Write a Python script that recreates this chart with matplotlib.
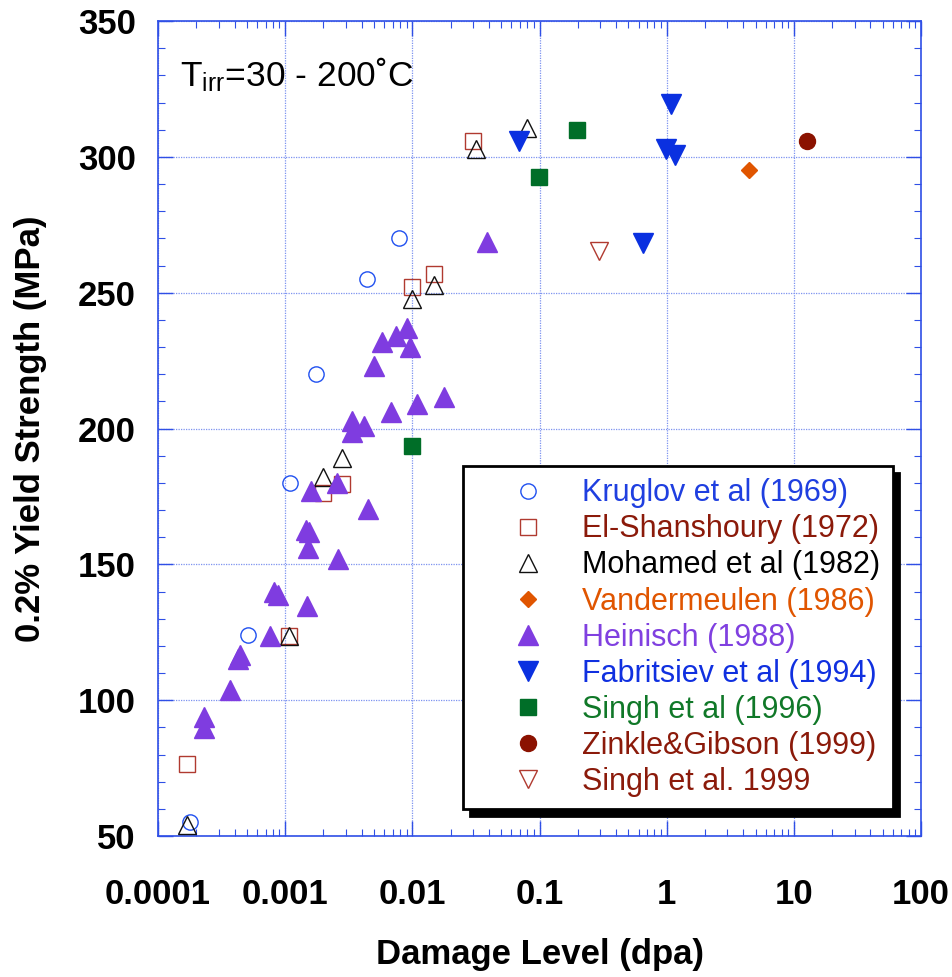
import matplotlib
matplotlib.use('Agg')
import matplotlib.pyplot as plt
from matplotlib.ticker import LogLocator, MultipleLocator, FixedLocator

plt.rcParams['font.family'] = ['Liberation Sans', 'DejaVu Sans']
plt.rcParams['mathtext.fontset'] = 'custom'
plt.rcParams['mathtext.rm'] = 'Liberation Sans'
plt.rcParams['mathtext.it'] = 'Liberation Sans:italic'

# data (dpa, MPa)
kruglov_x = [0.000179, 0.00051, 0.0011, 0.00175, 0.00437, 0.00785]
kruglov_y = [55.1, 123.9, 180.1, 220.1, 254.9, 270.0]

elshan_x = [0.00017, 0.00107, 0.00199, 0.00281, 0.00993, 0.0148, 0.0301]
elshan_y = [76.4, 123.6, 176.4, 179.5, 252.0, 256.9, 305.8]

mohamed_x = [0.000168, 0.00107, 0.00199, 0.0028, 0.0099, 0.0148, 0.0316, 0.08]
mohamed_y = [54.1, 123.6, 182.1, 189.0, 247.8, 252.8, 302.8, 310.7]

vander_x = [4.4]
vander_y = [295.2]

heinisch_x = [0.00023, 0.00023, 0.000368, 0.000441, 0.000428, 0.000755, 0.00082,
              0.00087, 0.00149, 0.00146, 0.00155, 0.0015, 0.00259, 0.0016,
              0.00257, 0.00446, 0.00333, 0.00337, 0.00414, 0.00683, 0.0108,
              0.0178, 0.00499, 0.00577, 0.00743, 0.00908, 0.00963, 0.0386]
heinisch_y = [93.7, 89.7, 103.8, 116.7, 115.1, 123.6, 139.7,
              138.7, 134.7, 162.7, 162.0, 155.9, 152.0, 177.1,
              179.8, 170.4, 198.6, 202.9, 200.9, 206.0, 209.0,
              211.7, 223.0, 232.0, 234.1, 236.9, 230.1, 268.8]

fabrit_x = [0.0689, 1.08, 0.98, 1.16, 0.646]
fabrit_y = [305.9, 319.5, 302.8, 300.7, 268.4]

singh96_x = [0.198, 0.099, 0.0099]
singh96_y = [310.0, 292.6, 193.6]

zinkle_x = [12.7]
zinkle_y = [305.8]

singh99_x = [0.295]
singh99_y = [265.5]

x_ticks = [0.0001, 0.001, 0.01, 0.1, 1, 10, 100]
x_ticklabels = ['0.0001', '0.001', '0.01', '0.1', '1', '10', '100']
y_ticks = [50, 100, 150, 200, 250, 300, 350]

AXBLUE = '#2f4fe6'
GRIDBLUE = '#7d93f0'

fig = plt.figure(figsize=(9.52, 9.77), dpi=100)
ax = fig.add_axes([0.166, 0.1443, 0.8015, 0.8342])

series = [
    (kruglov_x, kruglov_y, 'Kruglov et al (1969)', 'o', 11, 'none', '#2050f0', '#1f3fe0'),
    (elshan_x, elshan_y, 'El-Shanshoury (1972)', 's', 11, 'none', '#b03a30', '#8b1a0a'),
    (mohamed_x, mohamed_y, 'Mohamed et al (1982)', '^', 13, 'none', '#111111', '#000000'),
    (vander_x, vander_y, 'Vandermeulen (1986)', 'D', 8, '#e05500', '#e05500', '#e05500'),
    (heinisch_x, heinisch_y, 'Heinisch (1988)', '^', 14, '#7f3ce0', '#7f3ce0', '#8040e0'),
    (fabrit_x, fabrit_y, 'Fabritsiev et al (1994)', 'v', 14, '#0a30e0', '#0a30e0', '#1030e0'),
    (singh96_x, singh96_y, 'Singh et al (1996)', 's', 11, '#006e28', '#006e28', '#107828'),
    (zinkle_x, zinkle_y, 'Zinkle&Gibson (1999)', 'o', 11.5, '#8b1200', '#8b1200', '#8b1a0a'),
    (singh99_x, singh99_y, 'Singh et al. 1999', 'v', 13, 'none', '#b03a30', '#8b1a0a'),
]

text_colors = []
for xs, ys, lab, mk, ms, fc, ec, tc in series:
    ax.plot(xs, ys, linestyle='none', marker=mk, markersize=ms,
            markerfacecolor=fc, markeredgecolor=ec, markeredgewidth=1.0,
            label=lab, zorder=3)
    text_colors.append(tc)

ax.set_xscale('log')
ax.set_xlim(0.0001, 100)
ax.set_ylim(50, 350)

ax.xaxis.set_major_locator(FixedLocator(x_ticks))
ax.xaxis.set_minor_locator(LogLocator(base=10, subs=range(2, 10), numticks=20))
ax.set_xticks(x_ticks)
ax.set_xticklabels(x_ticklabels)
ax.yaxis.set_major_locator(FixedLocator(y_ticks))
ax.yaxis.set_minor_locator(MultipleLocator(10))

ax.grid(True, which='major', color=GRIDBLUE, linestyle=(0, (1, 1)), linewidth=0.9)
ax.set_axisbelow(True)

for sp in ax.spines.values():
    sp.set_color(AXBLUE)
    sp.set_linewidth(1.2)

ax.tick_params(which='both', direction='in', top=True, right=True, color=AXBLUE)
ax.tick_params(which='major', length=11, width=1.0)
ax.tick_params(which='minor', length=5, width=0.8)
ax.tick_params(axis='x', which='major', pad=30)
ax.tick_params(axis='y', which='major', pad=16)
for t in ax.get_xticklabels() + ax.get_yticklabels():
    t.set_fontsize(25)
    t.set_fontweight('bold')

ax.set_xlabel('Damage Level (dpa)', fontsize=25, fontweight='bold', labelpad=20)
ax.set_ylabel('0.2% Yield Strength (MPa)', fontsize=25, fontweight='bold', labelpad=22)

ax.text(0.029, 0.934, r'$\mathrm{T_{irr}}$=30 - 200˚C', transform=ax.transAxes,
        fontsize=25.5, ha='left', va='center')

leg = ax.legend(loc='upper left', bbox_to_anchor=(0.3997, 0.454), borderaxespad=0,
                fontsize=22, numpoints=1, handlelength=3.45, handletextpad=0.05,
                borderpad=0.4, labelspacing=0.2, fancybox=False,
                labelcolor=text_colors,
                shadow={'color': 'black', 'alpha': 1.0, 'ox': 5, 'oy': -5})
leg.get_frame().set_edgecolor('black')
leg.get_frame().set_linewidth(2.0)
leg.get_frame().set_alpha(1.0)

fig.savefig('out.png', dpi=100)
